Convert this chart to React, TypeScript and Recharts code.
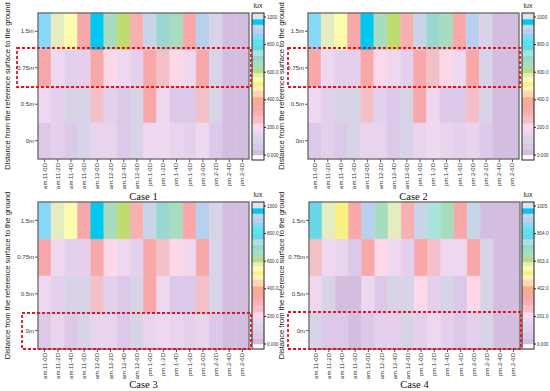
import React from 'react';
import { BarChart, Bar, XAxis, YAxis, Cell } from 'recharts';

const TIMES = ['am.11-0D','am.11-2D','am.11-4D','am.11-6D','am.12-0D','am.12-2D','am.12-4D','am.12-6D','pm.1-0D','pm.1-2D','pm.1-4D','pm.1-6D','pm.2-0D','pm.2-2D','pm.2-4D','pm.2-6D'];
const HEIGHTS = ['0m', '0.5m', '0.75m', '1.5m'];
const Y_TITLE = 'Distance from the reference surface to the ground';

// lux values (columns follow TIMES)
const CASE1_150 = [860, 580, 550, 330, 960, 650, 610, 300, 930, 700, 650, 330, 900, 90, 20, 20];
const CASE1_075 = [330, 170, 130, 130, 330, 210, 170, 130, 330, 260, 210, 170, 330, 100, 20, 20];
const CASE1_050 = [170, 130, 100, 100, 260, 130, 60, 100, 330, 170, 60, 60, 260, 100, 20, 20];
const CASE1_000 = [60, 130, 60, 100, 150, 150, 60, 100, 170, 170, 150, 130, 170, 60, 20, 20];

const CASE2_150 = [860, 580, 550, 330, 960, 650, 610, 300, 930, 700, 650, 330, 900, 90, 20, 20];
const CASE2_075 = [330, 170, 130, 130, 330, 210, 170, 130, 330, 260, 210, 170, 330, 100, 20, 20];
const CASE2_050 = [170, 130, 100, 100, 260, 130, 60, 100, 330, 170, 60, 60, 260, 100, 20, 20];
const CASE2_000 = [60, 130, 60, 100, 150, 150, 60, 100, 150, 170, 150, 130, 150, 60, 20, 20];

const CASE3_150 = [860, 580, 550, 330, 960, 650, 610, 300, 930, 700, 650, 330, 900, 90, 20, 20];
const CASE3_075 = [330, 170, 130, 130, 330, 210, 170, 130, 330, 260, 210, 170, 330, 90, 20, 20];
const CASE3_050 = [170, 130, 100, 100, 260, 130, 60, 100, 330, 170, 60, 60, 260, 90, 20, 20];
const CASE3_000 = [60, 150, 60, 100, 150, 150, 60, 100, 150, 170, 150, 130, 150, 60, 20, 20];

const CASE4_150 = [780, 580, 520, 330, 900, 650, 580, 300, 930, 740, 650, 330, 930, 20, 20, 20];
const CASE4_075 = [260, 170, 150, 60, 330, 210, 170, 130, 330, 260, 170, 170, 330, 100, 20, 20];
const CASE4_050 = [170, 100, 30, 30, 170, 60, 100, 100, 210, 130, 100, 60, 210, 100, 20, 20];
const CASE4_000 = [100, 60, 60, 30, 60, 130, 130, 100, 130, 170, 130, 60, 130, 100, 20, 20];

// colour scale (lower bound of each band) and colours
const LUX_STOPS = [0, 40, 80, 115, 145, 160, 190, 230, 280, 315, 370, 420, 470, 500, 530, 565, 595, 625, 680, 720, 760, 800, 840, 880, 915, 945, 985];
const LUX_COLORS = ['#d4bee0','#dcc8e8','#d8d4e8','#e4d0ec','#e8d4ec','#eed8f0','#fcd8e8','#f4c0c8','#f8b0b0','#f8a8a8','#f8aa92','#fcd8b0','#fef4c0','#f8f080','#fcfcb0','#e4ecc0','#c0dc70','#a8dcc0','#98d8d0','#a8e4dc','#68d8e8','#50e8f0','#88d8f8','#b8d0f0','#c8d4e8','#00c8f0','#dce4f0'];
const LUX_MIN = -36;
const LUX_TOP = 1029;

const CB_TICKS_A = [0, 200, 400, 600, 800, 1000];
const CB_LABELS_A = ['0.000', '200.0', '400.0', '600.0', '800.0', '1000'];
const CB_TICKS_B = [0, 201, 402, 603, 804, 1005];
const CB_LABELS_B = ['0.000', '201.0', '402.0', '603.0', '804.0', '1005'];

const SANS = '"Liberation Sans", Arial, sans-serif';
const SERIF = '"Liberation Serif", "Times New Roman", serif';

function luxColor(v: number): string {
  let c = LUX_COLORS[0];
  for (let i = 0; i < LUX_STOPS.length; i++) if (v >= LUX_STOPS[i]) c = LUX_COLORS[i];
  return c;
}

const XTick = (p: any) => (
  <text x={p.x} y={p.y} transform={`rotate(-90 ${p.x} ${p.y})`} textAnchor="end" dominantBaseline="central" fontSize={6} fill="#333" fontFamily={SANS}>
    {p.payload.value}
  </text>
);

const YTitle = (p: any) => {
  const vb = p.viewBox || { x: 0, y: 0, width: 0, height: 0 };
  const x = vb.x + p.px;
  const y = vb.y + vb.height / 2;
  return (
    <text x={x} y={y} transform={`rotate(-90 ${x} ${y})`} textAnchor="middle" dominantBaseline="central" fontSize={7.6} fill="#222" fontFamily={SANS}>
      {Y_TITLE}
    </text>
  );
};

const CaseLabel = (p: any) => {
  const vb = p.viewBox || { x: 0, y: 0, width: 0, height: 0 };
  return (
    <text x={vb.x + vb.width / 2} y={vb.y + vb.height - p.off} textAnchor="middle" fontSize={10.5} fill="#111" fontFamily={SERIF}>
      {p.text}
    </text>
  );
};

const LuxLabel = (p: any) => {
  const vb = p.viewBox || { x: 0, y: 0, width: 0, height: 0 };
  return (
    <text x={vb.x - 6} y={vb.y - 5} textAnchor="middle" fontSize={7} fill="#222" fontFamily={SANS}>lux</text>
  );
};

function Heatmap(props: { rows: number[][]; title: string; left: number; top: number; plotH: number; axisH: number; off: number; titleX: number }) {
  const { rows, title, left, top, plotH, axisH, off, titleX } = props;
  const data = TIMES.map((t) => ({ time: t, r0: 1, r1: 1, r2: 1, r3: 1 }));
  return (
    <div style={{ position: 'absolute', left, top }}>
      <BarChart width={250} height={13 + plotH + axisH} data={data} margin={{ top: 13, right: 1, bottom: 0, left: 0 }} barCategoryGap={0} barGap={0}>
        <XAxis dataKey="time" interval={0} tickSize={3} tickMargin={1} height={axisH} axisLine={false} tickLine={{ stroke: '#555' }} tick={<XTick />} label={<CaseLabel text={title} off={off} />} />
        <YAxis type="number" domain={[0, 4]} ticks={[0.5, 1.5, 2.5, 3.5]} tickFormatter={(v: number) => HEIGHTS[Math.floor(v)]} width={38} tickSize={3} tickMargin={1} axisLine={false} tickLine={{ stroke: '#555' }} tick={{ fontSize: 6, fill: '#333', fontFamily: SANS }} label={<YTitle px={titleX} />} />
        {rows.map((row, k) => (
          <Bar key={k} dataKey={`r${k}`} stackId="s" isAnimationActive={false}>
            {row.map((v, i) => <Cell key={i} fill={luxColor(v)} stroke={luxColor(v)} strokeWidth={0.6} />)}
          </Bar>
        ))}
      </BarChart>
    </div>
  );
}

function ColorBar(props: { left: number; top: number; ticks: number[]; labels: string[] }) {
  const { left, top, ticks, labels } = props;
  const k = ticks[ticks.length - 1] / 1000;
  const row: any = { name: 'lux' };
  LUX_STOPS.forEach((s, i) => {
    const next = i + 1 < LUX_STOPS.length ? LUX_STOPS[i + 1] : LUX_TOP;
    row['b' + i] = (next - s) * k;
  });
  return (
    <div style={{ position: 'absolute', left, top }}>
      <BarChart width={30} height={165} data={[row]} margin={{ top: 13, right: 0, bottom: 5, left: 0 }} barCategoryGap={0} barGap={0}>
        <XAxis dataKey="name" hide height={0} />
        <YAxis orientation="right" type="number" domain={[LUX_MIN * k, LUX_TOP * k]} allowDataOverflow ticks={ticks} tickFormatter={(v: number) => labels[ticks.indexOf(v)]} width={18} tickSize={2} tickMargin={1} axisLine={false} tickLine={{ stroke: '#222' }} tick={{ fontSize: 4.6, fill: '#333', fontFamily: SANS }} label={<LuxLabel />} />
        {LUX_STOPS.map((s, i) => (
          <Bar key={i} dataKey={'b' + i} stackId="c" fill={LUX_COLORS[i]} stroke={LUX_COLORS[i]} strokeWidth={0.5} isAnimationActive={false} />
        ))}
      </BarChart>
    </div>
  );
}

export default function App() {
  return (
    <div style={{ position: 'absolute', left: 0, top: 0, width: 550, height: 391, overflow: 'hidden', background: '#fff' }}>
      <Heatmap rows={[CASE1_000, CASE1_050, CASE1_075, CASE1_150]} title="Case 1" left={0} top={0} plotH={146} axisH={46} off={5} titleX={7} />
      <Heatmap rows={[CASE2_000, CASE2_050, CASE2_075, CASE2_150]} title="Case 2" left={270} top={0} plotH={146} axisH={46} off={5} titleX={11} />
      <Heatmap rows={[CASE3_000, CASE3_050, CASE3_075, CASE3_150]} title="Case 3" left={0} top={189} plotH={147} axisH={42} off={3} titleX={7} />
      <Heatmap rows={[CASE4_000, CASE4_050, CASE4_075, CASE4_150]} title="Case 4" left={271} top={189} plotH={147} axisH={42} off={3} titleX={10} />
      <ColorBar left={252} top={0} ticks={CB_TICKS_A} labels={CB_LABELS_A} />
      <ColorBar left={522} top={0} ticks={CB_TICKS_A} labels={CB_LABELS_A} />
      <ColorBar left={252} top={189} ticks={CB_TICKS_A} labels={CB_LABELS_A} />
      <ColorBar left={522} top={189} ticks={CB_TICKS_B} labels={CB_LABELS_B} />
      <svg width={550} height={391} style={{ position: 'absolute', left: 0, top: 0, pointerEvents: 'none' }}>
        <g fill="none" stroke="#6b6b6b" strokeWidth={1.3}>
          <rect x={38} y={13} width={211} height={146} />
          <rect x={308} y={13} width={211} height={146} />
          <rect x={38} y={202} width={211} height={147} />
          <rect x={309} y={202} width={211} height={147} />
        </g>
        <g fill="none" stroke="#222" strokeWidth={1}>
          <rect x={252} y={13} width={12} height={147} />
          <rect x={522} y={13} width={12} height={147} />
          <rect x={252} y={202} width={12} height={147} />
          <rect x={522} y={202} width={12} height={147} />
        </g>
        <g fill="none" stroke="#e8141c" strokeWidth={1.8} strokeDasharray="3 2">
          <rect x={17} y={48} width={234} height={39} />
          <rect x={288} y={48} width={232} height={39} />
          <rect x={22} y={313} width={229} height={36} />
          <rect x={288} y={312} width={233} height={37} />
        </g>
      </svg>
    </div>
  );
}
